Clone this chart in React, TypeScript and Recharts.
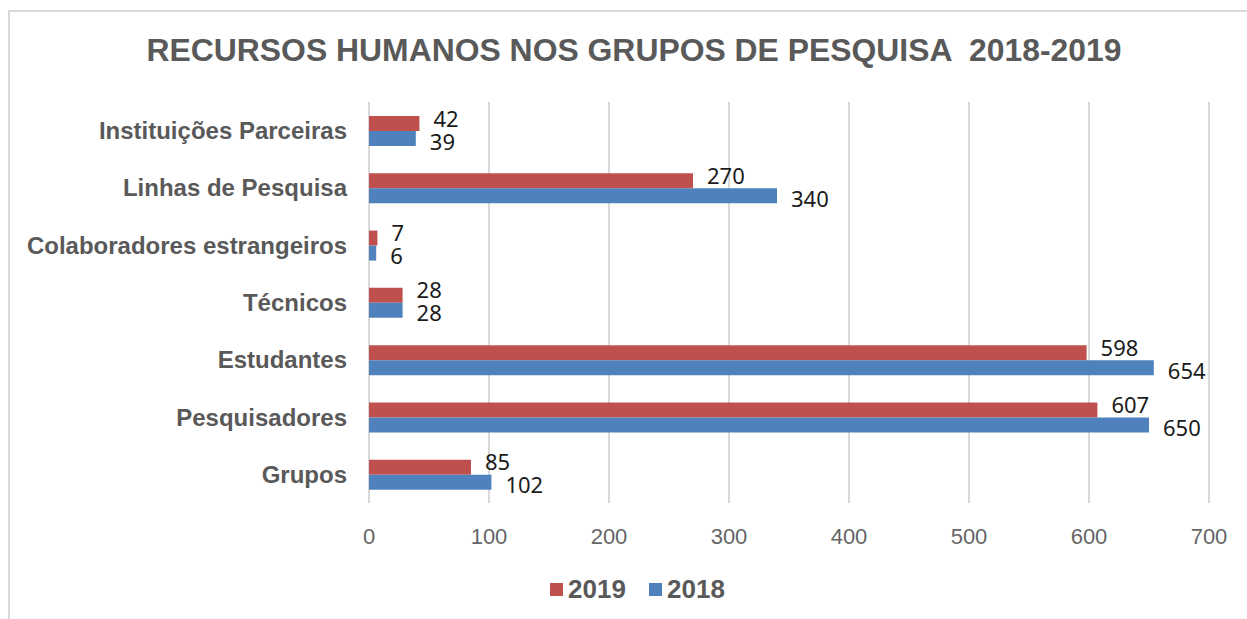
import React from "react";
import { Bar, BarChart, CartesianGrid, LabelList, XAxis, YAxis } from "recharts";

// Recursos humanos nos grupos de pesquisa, 2018 vs 2019 (horizontal bars).

const categories = [
  "Instituições Parceiras",
  "Linhas de Pesquisa",
  "Colaboradores estrangeiros",
  "Técnicos",
  "Estudantes",
  "Pesquisadores",
  "Grupos",
];
const values2019 = [42, 270, 7, 28, 598, 607, 85];
const values2018 = [39, 340, 6, 28, 654, 650, 102];
const xTicks = [0, 100, 200, 300, 400, 500, 600, 700];

const TITLE = "RECURSOS HUMANOS NOS GRUPOS DE PESQUISA  2018-2019";
const RED = "#C0504D";
const BLUE = "#4F81BD";
const GREY = "#595959";
const GRID = "#D9D9D9";
const SANS = "'Liberation Sans', Arial, sans-serif";

const data = categories.map((name, i) => ({
  name,
  y2019: values2019[i],
  y2018: values2018[i],
}));

const series = [
  { key: "y2019", label: "2019", color: RED, dy: -6 },
  { key: "y2018", label: "2018", color: BLUE, dy: 2 },
];

function valueLabel(dy: number) {
  return (props: any) => {
    const { x, y, width, height, value } = props;
    return (
      <text
        x={x + width + 14}
        y={y + height / 2 + dy}
        dominantBaseline="central"
        fontFamily="'Noto Sans', 'Open Sans', sans-serif"
        fontSize={22}
        fill="#1a1a1a"
      >
        {value}
      </text>
    );
  };
}

function CategoryTick(props: any) {
  const { x, y, payload } = props;
  return (
    <text
      x={x}
      y={y}
      textAnchor="end"
      dominantBaseline="central"
      fontFamily={SANS}
      fontWeight="bold"
      fontSize={24}
      fill={GREY}
    >
      {payload.value}
    </text>
  );
}

function NumberTick(props: any) {
  const { x, y, payload } = props;
  return (
    <text
      x={x}
      y={y + 33}
      textAnchor="middle"
      dominantBaseline="central"
      fontFamily={SANS}
      fontSize={22}
      fill="#666"
    >
      {payload.value}
    </text>
  );
}

function LegendSvg() {
  const items = [
    { ...series[0], x: 550 },
    { ...series[1], x: 649 },
  ];
  return (
    <svg width={1247} height={619} style={{ position: "absolute", left: 0, top: 0, pointerEvents: "none" }}>
      {items.map((s) => (
        <g key={s.key}>
          <rect x={s.x} y={583} width={13} height={13} fill={s.color} />
          <text
            x={s.x + 18}
            y={598}
            fontFamily={SANS}
            fontWeight="bold"
            fontSize={26}
            fill={GREY}
          >
            {s.label}
          </text>
        </g>
      ))}
    </svg>
  );
}

export default function App() {
  return (
    <div
      style={{
        position: "absolute",
        left: 0,
        top: 0,
        width: 1247,
        height: 619,
        background: "#fff",
        overflow: "hidden",
      }}
    >
      <div
        style={{
          position: "absolute",
          left: 8,
          top: 10,
          width: 1300,
          height: 700,
          borderLeft: `2px solid ${GRID}`,
          borderTop: `2px solid ${GRID}`,
        }}
      />
      <svg width={1247} height={100} style={{ position: "absolute", left: 0, top: 0 }}>
        <text
          x={634}
          y={50}
          textAnchor="middle"
          dominantBaseline="central"
          fontFamily={SANS}
          fontWeight="bold"
          fontSize={32}
          fill={GREY}
          textLength={975}
          lengthAdjust="spacingAndGlyphs"
          style={{ whiteSpace: "pre" }}
        >
          {TITLE}
        </text>
      </svg>
      <div style={{ position: "absolute", left: 0, top: 0 }}>
        <BarChart
          width={1247}
          height={619}
          data={data}
          layout="vertical"
          margin={{ top: 102, right: 38, left: 0, bottom: 76 }}
          barGap={0}
          barCategoryGap={27}
        >
          <CartesianGrid stroke={GRID} strokeWidth={2} horizontal={false} vertical />
          <XAxis
            type="number"
            domain={[0, 700]}
            ticks={xTicks}
            height={40}
            axisLine={false}
            tickLine={false}
            tickSize={0}
            tickMargin={0}
            tick={<NumberTick />}
          />
          <YAxis
            type="category"
            dataKey="name"
            width={369}
            axisLine={false}
            tickLine={false}
            tickSize={0}
            tickMargin={22}
            interval={0}
            tick={<CategoryTick />}
          />
          {series.map((s) => (
            <Bar
              key={s.key}
              dataKey={s.key}
              name={s.label}
              fill={s.color}
              barSize={15}
              isAnimationActive={false}
            >
              <LabelList dataKey={s.key} content={valueLabel(s.dy)} />
            </Bar>
          ))}
        </BarChart>
      </div>
      <LegendSvg />
    </div>
  );
}
